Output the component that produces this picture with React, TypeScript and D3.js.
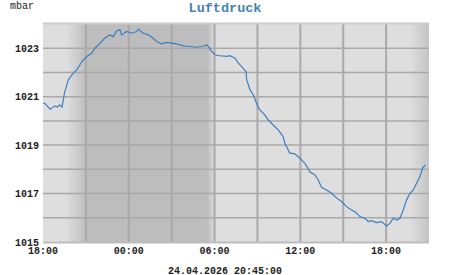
import React from "react";
import * as d3 from "d3";

// minutes after 23.04.2026 18:00
const minutes = [0, 10, 30, 50, 60, 70, 80, 90, 106, 127, 142, 163, 184, 205, 218, 240, 260, 281, 295, 310, 323, 330, 351, 372, 393, 400, 420, 442, 456, 477, 498, 519, 540, 561, 589, 617, 645, 666, 689, 708, 722, 743, 771, 785, 806, 820, 840, 852, 855, 869, 883, 896, 910, 931, 945, 966, 987, 1008, 1015, 1036, 1057, 1078, 1099, 1120, 1141, 1155, 1169, 1190, 1211, 1233, 1253, 1274, 1295, 1309, 1323, 1330, 1351, 1365, 1379, 1400, 1421, 1442, 1456, 1470, 1484, 1498, 1512, 1526, 1540, 1554, 1568, 1582, 1593, 1605];
const pressure = [1020.75, 1020.7, 1020.48, 1020.62, 1020.57, 1020.66, 1020.57, 1021.15, 1021.69, 1021.97, 1022.11, 1022.45, 1022.66, 1022.8, 1023.0, 1023.21, 1023.42, 1023.55, 1023.48, 1023.73, 1023.76, 1023.55, 1023.69, 1023.62, 1023.69, 1023.79, 1023.62, 1023.55, 1023.46, 1023.28, 1023.18, 1023.24, 1023.21, 1023.18, 1023.1, 1023.07, 1023.04, 1023.07, 1023.14, 1022.87, 1022.73, 1022.69, 1022.66, 1022.69, 1022.59, 1022.38, 1022.17, 1022.04, 1021.69, 1021.28, 1021.07, 1020.73, 1020.45, 1020.25, 1020.04, 1019.83, 1019.63, 1019.35, 1019.08, 1018.67, 1018.64, 1018.46, 1018.25, 1017.9, 1017.77, 1017.56, 1017.26, 1017.15, 1017.01, 1016.81, 1016.67, 1016.46, 1016.32, 1016.25, 1016.12, 1016.05, 1015.98, 1015.84, 1015.88, 1015.8, 1015.84, 1015.66, 1015.77, 1015.98, 1015.91, 1015.98, 1016.32, 1016.74, 1017.01, 1017.15, 1017.43, 1017.7, 1018.05, 1018.18];

const yTickValues = [1015, 1017, 1019, 1021, 1023];
const yGridValues = [1016, 1017, 1018, 1019, 1020, 1021, 1022, 1023];
// twilight transitions in minutes after start: [light->dark] and [dark->light]
const duskStart = [100, 1540];
const duskEnd = [180, 1620];
const dawnStart = [690];
const dawnEnd = [722];

const title = "Luftdruck";
const unit = "mbar";
const stamp = "24.04.2026 20:45:00";

const W = 451, H = 275;
const L = 43, R = 429, T = 24, B = 242;
const start = new Date(2026, 3, 23, 18, 0);
const toDate = (m: number) => new Date(start.getTime() + m * 60000);

export default function App() {
  const x = d3.scaleTime().domain([start, toDate(27 * 60)]).range([L, R]);
  const y = d3.scaleLinear().domain([1015, 1024]).range([B, T]);
  const light = "#dedede", dark = "#bdbdbd";
  const off = (m: number) => (x(toDate(m)) - L) / (R - L);
  const stops: [number, string][] = [
    [0, light],
    [off(duskStart[0]), light], [off(duskEnd[0]), dark],
    [off(dawnStart[0]), dark], [off(dawnEnd[0]), light],
    [off(duskStart[1]), light], [Math.min(1, off(duskEnd[1])), "#c4c4c4"],
  ];
  const xGrid = d3.range(1, 9).map((i) => toDate(i * 180));
  const xTicks = d3.range(0, 5).map((i) => toDate(i * 360));
  const fmt = d3.timeFormat("%H:%M");
  const line = d3.line<number>()
    .x((_, i) => x(toDate(minutes[i])))
    .y((d) => y(d));
  const mono = "'Liberation Mono', 'DejaVu Sans Mono', monospace";
  return (
    <svg width={W} height={H} style={{ position: "absolute", left: 0, top: 0 }}>
      <defs>
        <linearGradient id="bg" gradientUnits="userSpaceOnUse" x1={L} x2={R} y1={0} y2={0}>
          {stops.map(([o, c], i) => <stop key={i} offset={o} stopColor={c} />)}
        </linearGradient>
      </defs>
      <rect x={0} y={0} width={W} height={H} fill="#fff" />
      <rect x={L} y={T} width={R - L} height={B - T} fill="url(#bg)" />
      {yGridValues.map((v) => (
        <line key={v} x1={L} x2={R} y1={y(v)} y2={y(v)} stroke="#a9a9a9" strokeWidth={1.5} />
      ))}
      {xGrid.map((d, i) => (
        <line key={i} x1={x(d)} x2={x(d)} y1={T} y2={B} stroke="#a9a9a9" strokeWidth={2} />
      ))}
      <line x1={L} x2={R} y1={T - 0.5} y2={T - 0.5} stroke="#cccccc" strokeWidth={2} />
      <line x1={L} x2={R} y1={B + 0.5} y2={B + 0.5} stroke="#bdbdbd" strokeWidth={2} />
      <path d={line(pressure) || ""} fill="none" stroke="#3b7fc0" strokeWidth={1.2} />
      {yTickValues.map((v) => (
        <text key={v} x={39} y={y(v)} dy="0.35em" textAnchor="end" fontFamily={mono} fontWeight="bold" fontSize={10} fill="#222">{v}</text>
      ))}
      {xTicks.map((d, i) => (
        <text key={i} x={x(d)} y={253.5} textAnchor="middle" fontFamily={mono} fontWeight="bold" fontSize={10} fill="#222">{fmt(d)}</text>
      ))}
      <text x={225} y={273.5} textAnchor="middle" fontFamily={mono} fontWeight="bold" fontSize={10} fill="#222">{stamp}</text>
      <text x={225} y={11.5} textAnchor="middle" fontFamily={mono} fontWeight="bold" fontSize={13.5} fill="#4682b4">{title}</text>
      <text x={10} y={9} fontFamily={mono} fontSize={10} fill="#222">{unit}</text>
    </svg>
  );
}
